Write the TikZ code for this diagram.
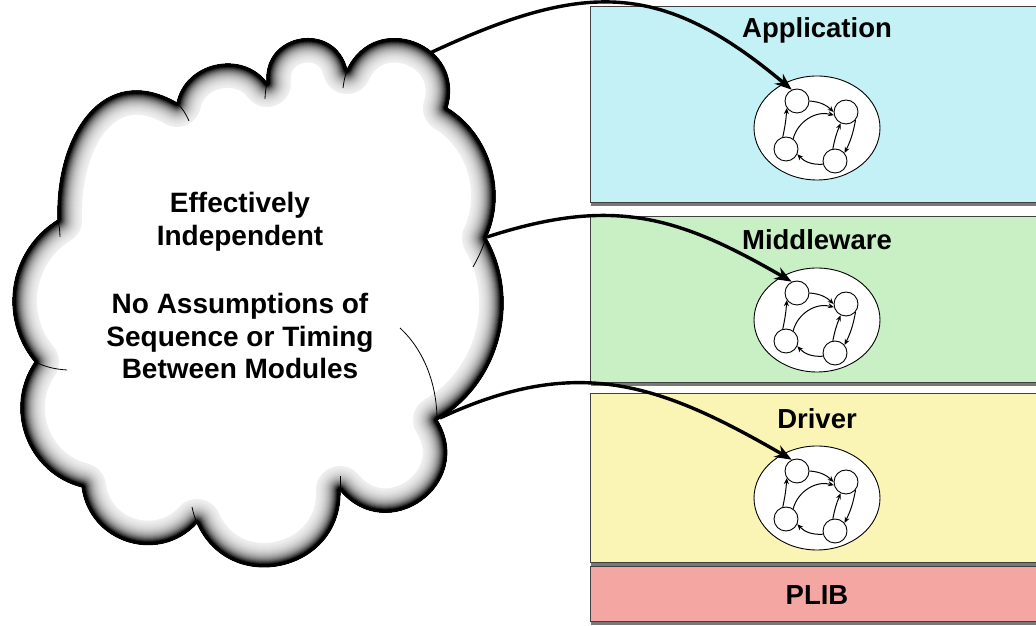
\documentclass[tikz,border=0pt]{standalone}
\usepackage{fontspec}
\setmainfont{Liberation Sans}
\usetikzlibrary{arrows.meta,shadows,calc,shapes.geometric}
\definecolor{appc}{RGB}{196,241,245}
\definecolor{mwc}{RGB}{200,240,196}
\definecolor{drc}{RGB}{250,245,180}
\definecolor{plc}{RGB}{244,166,163}
\tikzset{
  layerbox/.style={draw=black!75, line width=1pt, inner sep=0pt, outer sep=0pt, anchor=north west,
    drop shadow={shadow xshift=1pt, shadow yshift=-3.5pt, fill=black!75, opacity=0.7}},
  lbl/.style={font=\fontsize{27.5}{32}\selectfont\bfseries, inner sep=0pt},
  ctext/.style={font=\fontsize{28}{32.5}\selectfont\bfseries, align=center, inner sep=0pt},
  smell/.style={ellipse, draw, fill=white, line width=0.9pt, minimum width=126pt, minimum height=104pt, inner sep=0pt},
  smst/.style={circle, draw, fill=white, line width=0.9pt, minimum size=24pt, inner sep=0pt},
  smarr/.style={line width=1pt, -{Stealth[length=6pt,width=5pt]}},
  conn/.style={line width=3.4pt, -{Stealth[length=17pt,width=13pt]}},
  crease/.style={line width=0.8pt, black},
}
\newcommand{\fsmgroup}[3]{%
  \node[smell] (#1E) at (#2,#3) {};
  \node[smst] (#1TL) at ($(#1E.center)+(-20,27)$) {};
  \node[smst] (#1TR) at ($(#1E.center)+(29,16)$) {};
  \node[smst] (#1BL) at ($(#1E.center)+(-31,-21)$) {};
  \node[smst] (#1BR) at ($(#1E.center)+(18,-33)$) {};
  \draw[smarr] (#1TL.east) to[bend left=20] (#1TR.west);
  \draw[smarr] (#1BL.105) to[bend right=4] (#1TL.215);
  \draw[smarr] (#1BL.55) to[bend left=45] (#1TR.195);
  \draw[smarr] (#1BR.100) to[bend left=6] (#1TR.245);
  \draw[smarr] (#1TR.320) to[bend left=8] (#1BR.40);
  \draw[smarr] (#1BR.195) to[bend left=25] (#1BL.-25);
}
\newcommand{\cloudpth}{(58,406) to[out=92,in=150,looseness=1.3] (177,523)
  to[bend left=66,looseness=1.15] (267,543)
  to[bend left=86,looseness=1.60] (347,556)
  to[bend left=86,looseness=1.6] (447,518)
  to[bend left=42,looseness=0.95] (486,388)
  to[bend left=45,looseness=0.98] (437,206)
  to[bend left=86,looseness=1.6] (340,136)
  to[bend left=79,looseness=1.42] (197,103)
  to[bend left=65,looseness=1.2] (82,139)
  to[bend left=55,looseness=1.08] (35,264)
  to[bend left=49,looseness=1.03] (58,406) -- cycle}
\begin{document}
\begin{tikzpicture}[x=1pt,y=1pt]
\useasboundingbox (0,0) rectangle (1036,626);
\fill[white] (0,0) rectangle (1036,626);
% layers
\node[layerbox, fill=appc, minimum width=460pt, minimum height=196pt] (app) at (590,619) {};
\node[layerbox, fill=mwc, minimum width=460pt, minimum height=166pt] (mw) at (590,409) {};
\node[layerbox, fill=drc, minimum width=460pt, minimum height=169pt] (dr) at (590,232) {};
\node[layerbox, fill=plc, minimum width=460pt, minimum height=55pt] (pl) at (590,59) {};
\node[lbl] (appL) at (817,596) {Application};
\node[lbl] (mwL) at (817,386) {Middleware};
\node[lbl] (drL) at (817,207) {Driver};
\node[lbl] (plL) at (817,31) {PLIB};
% state machines
\fsmgroup{app}{817}{498}
\fsmgroup{mw}{817}{306}
\fsmgroup{dr}{817}{128}
% cloud
\fill[white] \cloudpth;
\begin{scope}
  \clip \cloudpth;
  \foreach \i in {0,...,23} {
    \pgfmathsetmacro\hw{24-\i}
    \pgfmathsetmacro\cc{min(100,100*exp(-(\hw-3)/7.5))}
    \draw[line width={2*\hw pt}, black!\cc, line join=round] \cloudpth;
  }
\end{scope}
\draw[line width=1pt, black] \cloudpth;
% creases
\draw[crease] (177,523) to[bend left=10] (189,505);
\draw[crease] (267,543) to[bend right=5] (265,527);
\draw[crease] (347,556) to[bend right=5] (343,538);
\draw[crease] (58,406) to[bend left=5] (60,389);
\draw[crease] (486,388) to[bend left=5] (473,359);
\draw[crease] (35,264) to[bend right=10] (67,256);
\draw[crease] (437,206) .. controls (437,240) and (425,275) .. (400,298);
\draw[crease] (340,136) -- (340,150);
\draw[crease] (197,103) to[bend left=5] (192,119);
% text
\node[ctext] (t1) at (240,404) {Effectively\\Independent};
\node[ctext] (t2) at (240,290) {No Assumptions of\\Sequence or Timing\\Between Modules};
% connectors
\coordinate (cT) at (430,573);
\coordinate (cM) at (487,389);
\coordinate (cB) at (440,208);
\draw[conn] (cT) to[out=25,in=140,looseness=1.2] (appTL.115);
\draw[conn] (cM) to[out=18,in=150,looseness=1.1] (mwTL.115);
\draw[conn] (cB) to[out=25,in=150,looseness=1.1] (drTL.115);
\end{tikzpicture}
\end{document}
